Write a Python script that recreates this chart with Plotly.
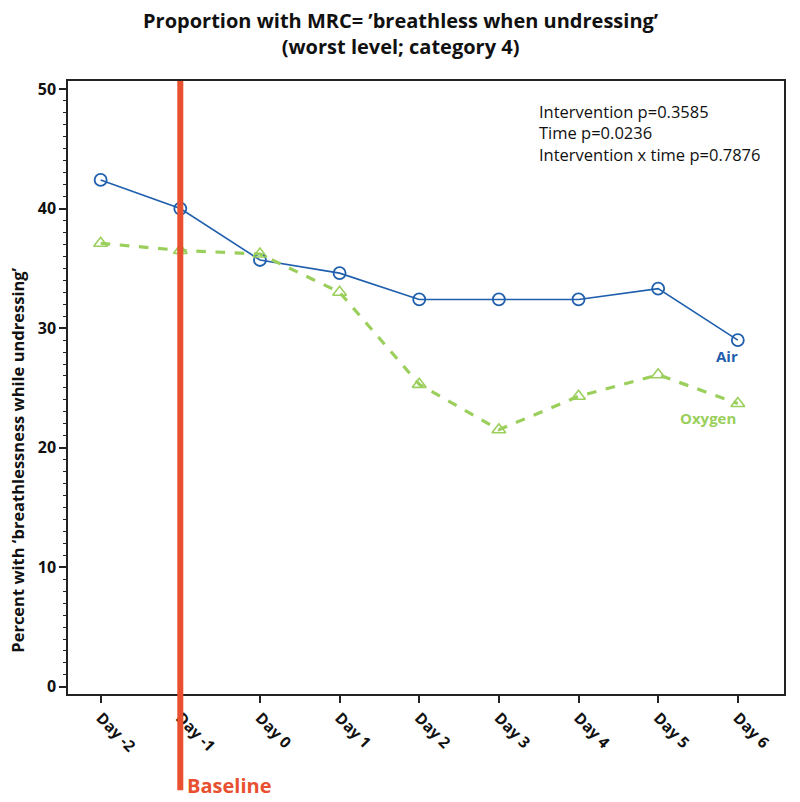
import plotly.graph_objects as go

days = ["Day -2", "Day -1", "Day 0", "Day 1", "Day 2", "Day 3", "Day 4", "Day 5", "Day 6"]
air = [42.4, 40.0, 35.7, 34.6, 32.4, 32.4, 32.4, 33.3, 29.0]
oxygen = [37.1, 36.5, 36.2, 33.0, 25.3, 21.5, 24.3, 26.1, 23.7]
stats_lines = ["Intervention p=0.3585", "Time p=0.0236", "Intervention x time p=0.7876"]
title_lines = ["Proportion with MRC= ’breathless when undressing’", "(worst level; category 4)"]
y_title = "Percent with ‘breathlessness while undressing’"

BLUE = "#1f5fad"
GREEN = "#9bcf5c"
RED = "#e8502f"
FONT = "Open Sans"

x = list(range(len(days)))
fig = go.Figure()
fig.add_trace(go.Scatter(x=x, y=air, mode="lines+markers", name="Air",
                         line=dict(color=BLUE, width=1.6),
                         marker=dict(symbol="circle-open", size=12, color=BLUE, line=dict(width=1.8))))
fig.add_trace(go.Scatter(x=x, y=oxygen, mode="lines+markers", name="Oxygen",
                         line=dict(color=GREEN, width=3.2, dash="dash"),
                         marker=dict(symbol="triangle-up-open", size=12, color=GREEN, line=dict(width=1.6))))

fig.add_shape(type="line", xref="x", yref="paper", x0=1, x1=1, y0=-0.157, y1=1,
              line=dict(color=RED, width=6), layer="above")
fig.add_annotation(xref="x", yref="paper", x=1, y=-0.16, xanchor="left", yanchor="bottom",
                   xshift=5, yshift=-9, text="<b>Baseline</b>", showarrow=False,
                   font=dict(family=FONT, size=20, color=RED))

fig.add_annotation(xref="paper", yref="paper", x=0.655, y=0.972, xanchor="left", yanchor="top",
                   text="<br>".join(stats_lines), showarrow=False, align="left",
                   font=dict(family=FONT, size=16.5, color="#111"))

fig.add_annotation(xref="x", yref="y", x=8, y=air[-1], text="<b>Air</b>", showarrow=False,
                   xanchor="right", yanchor="top", xshift=2, yshift=-4,
                   font=dict(family=FONT, size=15, color=BLUE))
fig.add_annotation(xref="x", yref="y", x=8, y=oxygen[-1], text="<b>Oxygen</b>", showarrow=False,
                   xanchor="right", yanchor="top", xshift=0, yshift=-3,
                   font=dict(family=FONT, size=15, color=GREEN))

# title (as annotation so both lines sit where the reference has them)
fig.add_annotation(xref="paper", yref="paper", x=0.465, y=1.124, xanchor="center", yanchor="top",
                   text="<b>" + "<br>".join(title_lines) + "</b>", showarrow=False, align="center",
                   font=dict(family=FONT, size=20, color="#111"))
# y-axis title (placed off-centre like the reference)
fig.add_annotation(xref="paper", yref="paper", x=-0.07, y=0.382, xanchor="center", yanchor="middle",
                   text="<b>" + y_title + "</b>", textangle=-90, showarrow=False,
                   font=dict(family=FONT, size=16.5, color="#111"))

fig.update_layout(
    width=800, height=802,
    margin=dict(l=68, r=16, t=81, b=108, autoexpand=False),
    paper_bgcolor="white", plot_bgcolor="white",
    showlegend=False,
    font=dict(family=FONT, color="#111"),
)
fig.update_xaxes(range=[-0.41, 8.58], tickmode="array", tickvals=x, ticktext=[f"<b>{d}</b>" for d in days],
                 tickangle=45, ticks="outside", ticklen=7, tickwidth=1.5, tickcolor="#222",
                 showline=True, linecolor="#222", linewidth=1.5, mirror=True, showgrid=False, zeroline=False,
                 automargin=False,
                 tickfont=dict(family=FONT, size=15.5, color="#111"))
fig.update_yaxes(range=[-0.6, 50.67], tickmode="array", tickvals=[0, 10, 20, 30, 40, 50],
                 ticktext=["<b>0</b>", "<b>10</b>", "<b>20</b>", "<b>30</b>", "<b>40</b>", "<b>50</b>"],
                 ticks="outside", ticklen=7, tickwidth=1.5, tickcolor="#222",
                 minor=dict(tickmode="linear", tick0=0, dtick=1, ticks="outside", ticklen=3, tickwidth=1, tickcolor="#222"),
                 showline=True, linecolor="#222", linewidth=1.5, mirror=True, showgrid=False, zeroline=False,
                 automargin=False,
                 tickfont=dict(family=FONT, size=16, color="#111"))

fig.write_html("out.html", config={"displayModeBar": False},
               post_script="document.body.style.margin='0';")
